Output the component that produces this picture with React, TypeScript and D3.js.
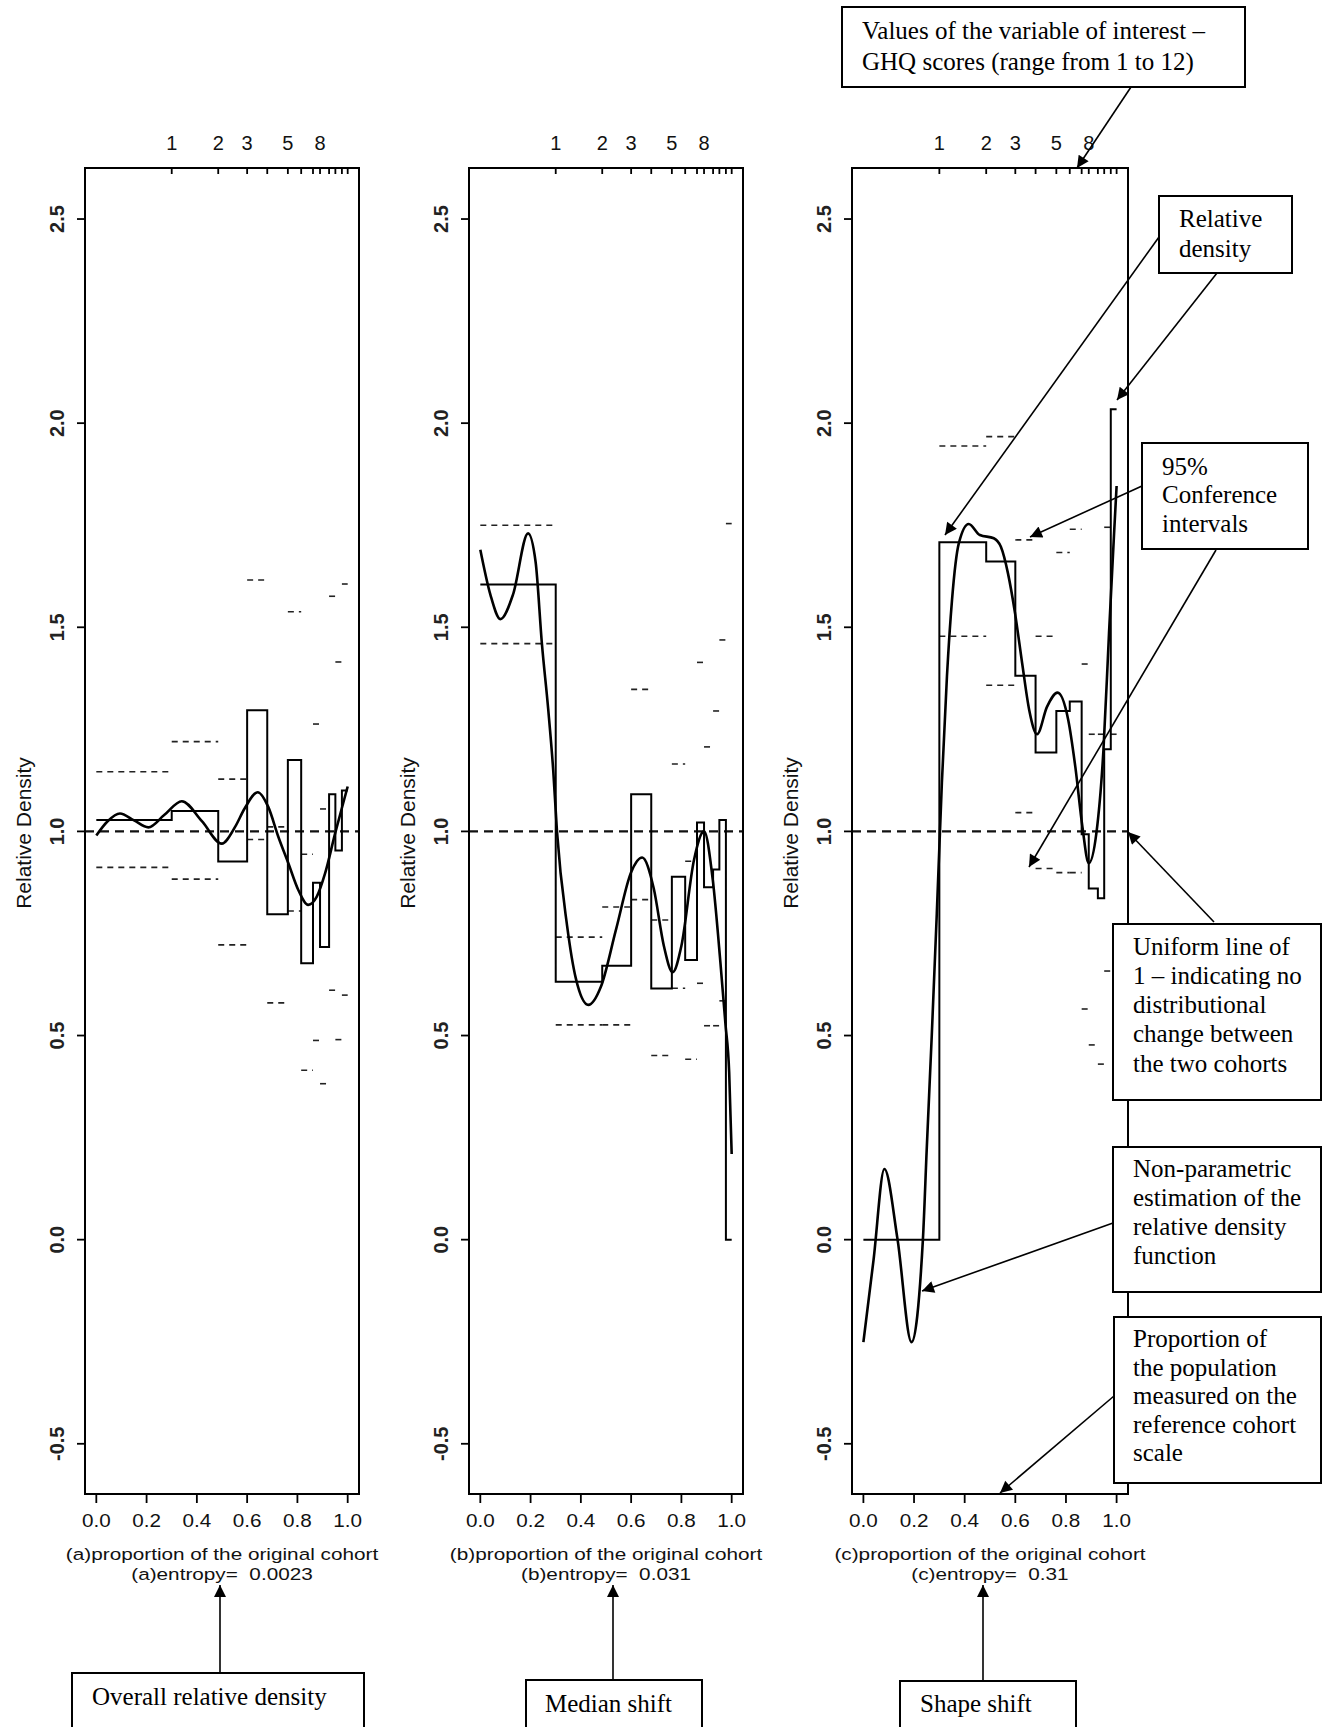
import React from "react";
import * as d3 from "d3";

// bin edges on the reference-cohort proportion scale (GHQ score 0..12)
const binEdges = [0, 0.3, 0.485, 0.6, 0.68, 0.762, 0.815, 0.862, 0.89, 0.926, 0.951, 0.977, 1.0];
const ghqScores = [1, 2, 3, 4, 5, 6, 7, 8, 9, 10, 11, 12];
const ghqLabelled = [1, 2, 3, 5, 8];
const yTicks = [-0.5, 0, 0.5, 1, 1.5, 2, 2.5];
const yTickLabels = ["-0.5", "0.0", "0.5", "1.0", "1.5", "2.0", "2.5"];
const xTicks = [0, 0.2, 0.4, 0.6, 0.8, 1.0];
const xTickLabels = ["0.0", "0.2", "0.4", "0.6", "0.8", "1.0"];

// (a) overall relative density
const stepA = [1.028, 1.05, 0.926, 1.297, 0.797, 1.175, 0.677, 0.874, 0.717, 1.091, 0.953, 1.1];
const ciUpperA = [1.146, 1.22, 1.128, 1.616, 1.011, 1.538, 0.944, 1.263, 1.055, 1.576, 1.415, 1.606];
const ciLowerA = [0.912, 0.883, 0.722, 0.98, 0.58, 0.805, 0.415, 0.488, 0.382, 0.611, 0.49, 0.599];
const curveA: [number, number][] = [
  [0, 0.99], [0.045, 1.025], [0.094, 1.044], [0.15, 1.027], [0.207, 1.01], [0.27, 1.04],
  [0.34, 1.074], [0.42, 1.025], [0.499, 0.97], [0.552, 1.011], [0.59, 1.056], [0.642, 1.096],
  [0.684, 1.06], [0.724, 0.987], [0.764, 0.922], [0.804, 0.856], [0.843, 0.82], [0.877, 0.84],
  [0.91, 0.897], [0.95, 0.995], [0.982, 1.069], [1.0, 1.11],
];

// (b) median shift
const stepB = [1.605, 0.632, 0.671, 1.091, 0.615, 0.889, 0.685, 1.022, 0.863, 0.907, 1.028, 0.0];
const ciUpperB = [1.75, 0.741, 0.815, 1.348, 0.783, 1.165, 0.927, 1.414, 1.207, 1.295, 1.469, 1.754];
const ciLowerB = [1.46, 0.526, 0.526, 0.833, 0.451, 0.616, 0.442, 0.628, 0.524, 0.524, 0.585, null];
const curveB: [number, number][] = [
  [0, 1.69], [0.04, 1.58], [0.08, 1.52], [0.13, 1.58], [0.19, 1.73], [0.22, 1.66],
  [0.245, 1.46], [0.27, 1.3], [0.29, 1.15], [0.305, 1.0], [0.345, 0.77], [0.38, 0.64],
  [0.43, 0.575], [0.48, 0.62], [0.54, 0.76], [0.6, 0.9], [0.644, 0.936], [0.69, 0.86],
  [0.73, 0.72], [0.765, 0.655], [0.8, 0.72], [0.85, 0.93], [0.89, 1.0], [0.925, 0.88],
  [0.955, 0.68], [0.975, 0.53], [0.99, 0.41], [1.0, 0.21],
];

// (c) shape shift
const stepC = [0.0, 1.708, 1.661, 1.381, 1.193, 1.295, 1.318, 0.993, 0.86, 0.836, 1.201, 2.034];
const ciUpperC = [null, 1.944, 1.967, 1.714, 1.478, 1.683, 1.74, 1.41, 1.238, 1.238, 1.745, null];
const ciLowerC = [null, 1.478, 1.358, 1.046, 0.909, 0.899, 0.899, 0.565, 0.477, 0.43, 0.658, 1.238];
const curveC: [number, number][] = [
  [0, -0.251], [0.04, -0.05], [0.083, 0.173], [0.135, 0.0], [0.19, -0.251], [0.235, 0.0],
  [0.25, 0.22], [0.27, 0.5], [0.29, 0.8], [0.31, 1.12], [0.33, 1.38], [0.35, 1.567],
  [0.377, 1.706], [0.416, 1.753], [0.46, 1.726], [0.515, 1.718], [0.543, 1.697], [0.571, 1.632],
  [0.599, 1.534], [0.627, 1.412], [0.655, 1.297], [0.686, 1.238], [0.725, 1.305], [0.767, 1.34],
  [0.809, 1.273], [0.837, 1.158], [0.865, 1.011], [0.89, 0.922], [0.92, 0.995], [0.948, 1.199],
  [0.97, 1.485], [0.99, 1.73], [1.0, 1.846],
];

const W = 1329;
const H = 1727;
const TOP = 168;
const BOTTOM = 1494;
const sans = "'Liberation Sans', Arial, sans-serif";
const serif = "'Liberation Serif', 'Times New Roman', serif";

const panels = [
  { id: "a", left: 85, right: 359, step: stepA, upper: ciUpperA, lower: ciLowerA, curve: curveA, entropy: "0.0023" },
  { id: "b", left: 469, right: 743, step: stepB, upper: ciUpperB, lower: ciLowerB, curve: curveB, entropy: "0.031" },
  { id: "c", left: 852, right: 1128, step: stepC, upper: ciUpperC, lower: ciLowerC, curve: curveC, entropy: "0.31" },
];

const y = d3.scaleLinear().domain([-0.623, 2.625]).range([BOTTOM, TOP]);

function Panel({ p }: { p: (typeof panels)[number] }) {
  const x = d3.scaleLinear().domain([-0.045, 1.045]).range([p.left, p.right]);
  const stepPts: [number, number][] = [
    ...p.step.map((v, i) => [binEdges[i], v] as [number, number]),
    [1, p.step[p.step.length - 1]],
  ];
  const stepLine = d3.line<[number, number]>()
    .x((d) => x(d[0]))
    .y((d) => y(d[1]))
    .curve(d3.curveStepAfter);
  const smooth = d3.line<[number, number]>()
    .x((d) => x(d[0]))
    .y((d) => y(d[1]))
    .curve(d3.curveMonotoneX);
  const cx = (p.left + p.right) / 2;

  const ci = (vals: (number | null)[], key: string) =>
    vals.map((v, i) =>
      v == null ? null : (
        <line
          key={key + i}
          x1={x(binEdges[i])}
          x2={x(binEdges[i + 1])}
          y1={y(v)}
          y2={y(v)}
          stroke="#222"
          strokeWidth={1.6}
          strokeDasharray="6,5"
        />
      )
    );

  return (
    <g>
      {/* uniform line */}
      <line x1={p.left} x2={p.right} y1={y(1)} y2={y(1)} stroke="#111" strokeWidth={2.2} strokeDasharray="9,6" />
      {ci(p.upper, "u")}
      {ci(p.lower, "l")}
      <path d={stepLine(stepPts) || ""} fill="none" stroke="#000" strokeWidth={2} />
      <path d={smooth(p.curve) || ""} fill="none" stroke="#000" strokeWidth={2.6} />
      <rect x={p.left} y={TOP} width={p.right - p.left} height={BOTTOM - TOP} fill="none" stroke="#000" strokeWidth={2} />

      {/* left axis */}
      {yTicks.map((t, i) => (
        <g key={"y" + t}>
          <line x1={p.left - 8} x2={p.left} y1={y(t)} y2={y(t)} stroke="#000" strokeWidth={1.8} />
          <text
            transform={`translate(${p.left - 28},${y(t)}) rotate(-90)`}
            textAnchor="middle"
            dy="0.36em"
            fontFamily={sans}
            fontSize={20}
            fontWeight="bold"
            fill="#222"
          >
            {yTickLabels[i]}
          </text>
        </g>
      ))}
      <text
        transform={`translate(${p.left - 62},833) rotate(-90)`}
        textAnchor="middle"
        dy="0.36em"
        fontFamily={sans}
        fontSize={21}
        fill="#111"
      >
        Relative Density
      </text>

      {/* bottom axis */}
      {xTicks.map((t, i) => (
        <g key={"x" + t}>
          <line x1={x(t)} x2={x(t)} y1={BOTTOM} y2={BOTTOM + 9} stroke="#000" strokeWidth={1.8} />
          <text
            transform={`translate(${x(t)},1527) scale(1.15,1)`}
            textAnchor="middle"
            fontFamily={sans}
            fontSize={18}
            fill="#111"
          >
            {xTickLabels[i]}
          </text>
        </g>
      ))}
      <text transform={`translate(${cx},1560) scale(1.22,1)`} textAnchor="middle" fontFamily={sans} fontSize={17} fill="#111">
        {`(${p.id})proportion of the original cohort`}
      </text>
      <text transform={`translate(${cx},1580) scale(1.22,1)`} textAnchor="middle" fontFamily={sans} fontSize={17} fill="#111" style={{ whiteSpace: "pre" }}>
        {`(${p.id})entropy=  ${p.entropy}`}
      </text>

      {/* top axis: GHQ scores at their reference-cohort quantiles */}
      {ghqScores.map((s) => (
        <line key={"t" + s} x1={x(binEdges[s])} x2={x(binEdges[s])} y1={TOP} y2={TOP + 6} stroke="#000" strokeWidth={1.8} />
      ))}
      {ghqLabelled.map((s) => (
        <text key={"tl" + s} x={x(binEdges[s])} y={150} textAnchor="middle" fontFamily={sans} fontSize={20} fill="#111">
          {s}
        </text>
      ))}
    </g>
  );
}

const boxes = [
  { x: 842, y: 7, w: 403, h: 80, tx: 862, ty: [39, 70], lines: ["Values of the variable of interest –", "GHQ scores (range from 1 to 12)"] },
  { x: 1159, y: 196, w: 133, h: 77, tx: 1179, ty: [227, 257], lines: ["Relative", "density"] },
  { x: 1142, y: 443, w: 166, h: 106, tx: 1162, ty: [475, 503, 532], lines: ["95%", "Conference", "intervals"] },
  {
    x: 1113, y: 924, w: 208, h: 176, tx: 1133, ty: [955, 984, 1013, 1042, 1072],
    lines: ["Uniform line of", "1 – indicating no", "distributional", "change between", "the two cohorts"],
  },
  {
    x: 1113, y: 1147, w: 208, h: 145, tx: 1133, ty: [1177, 1206, 1235, 1264],
    lines: ["Non-parametric", "estimation of the", "relative density", "function"],
  },
  {
    x: 1114, y: 1317, w: 207, h: 166, tx: 1133, ty: [1347, 1376, 1404, 1433, 1461],
    lines: ["Proportion of", "the population", "measured on the", "reference cohort", "scale"],
  },
  { x: 72, y: 1673, w: 292, h: 90, tx: 92, ty: [1705], lines: ["Overall relative density"] },
  { x: 526, y: 1680, w: 176, h: 90, tx: 545, ty: [1712], lines: ["Median shift"] },
  { x: 900, y: 1681, w: 176, h: 90, tx: 920, ty: [1712], lines: ["Shape shift"] },
];

const arrows = [
  [1131, 87, 1077, 168],
  [1159, 237, 945, 535],
  [1217, 273, 1117, 400],
  [1142, 486, 1030, 537],
  [1216, 550, 1029, 867],
  [1214, 922, 1128, 832],
  [1113, 1223, 922, 1291],
  [1114, 1396, 1000, 1493],
  [220, 1673, 220, 1585],
  [613, 1680, 613, 1585],
  [983, 1681, 983, 1585],
];

export default function App() {
  return (
    <svg
      width={W}
      height={H}
      style={{ position: "absolute", left: 0, top: 0, background: "#fff" }}
    >
      <defs>
        <marker id="head" viewBox="0 0 10 10" refX="10" refY="5" markerWidth="16" markerHeight="12" markerUnits="userSpaceOnUse" orient="auto">
          <path d="M0,0 L10,5 L0,10 z" fill="#000" />
        </marker>
      </defs>
      <rect width={W} height={H} fill="#fff" />
      {panels.map((p) => (
        <Panel key={p.id} p={p} />
      ))}
      {arrows.map((a, i) => (
        <line key={"ar" + i} x1={a[0]} y1={a[1]} x2={a[2]} y2={a[3]} stroke="#000" strokeWidth={1.6} markerEnd="url(#head)" />
      ))}
      {boxes.map((b, i) => (
        <g key={"bx" + i}>
          <rect x={b.x} y={b.y} width={b.w} height={b.h} fill="#fff" stroke="#000" strokeWidth={2} />
          <text fontFamily={serif} fontSize={25} fill="#000">
            {b.lines.map((l, j) => (
              <tspan key={j} x={b.tx} y={b.ty[j]}>
                {l}
              </tspan>
            ))}
          </text>
        </g>
      ))}
    </svg>
  );
}
